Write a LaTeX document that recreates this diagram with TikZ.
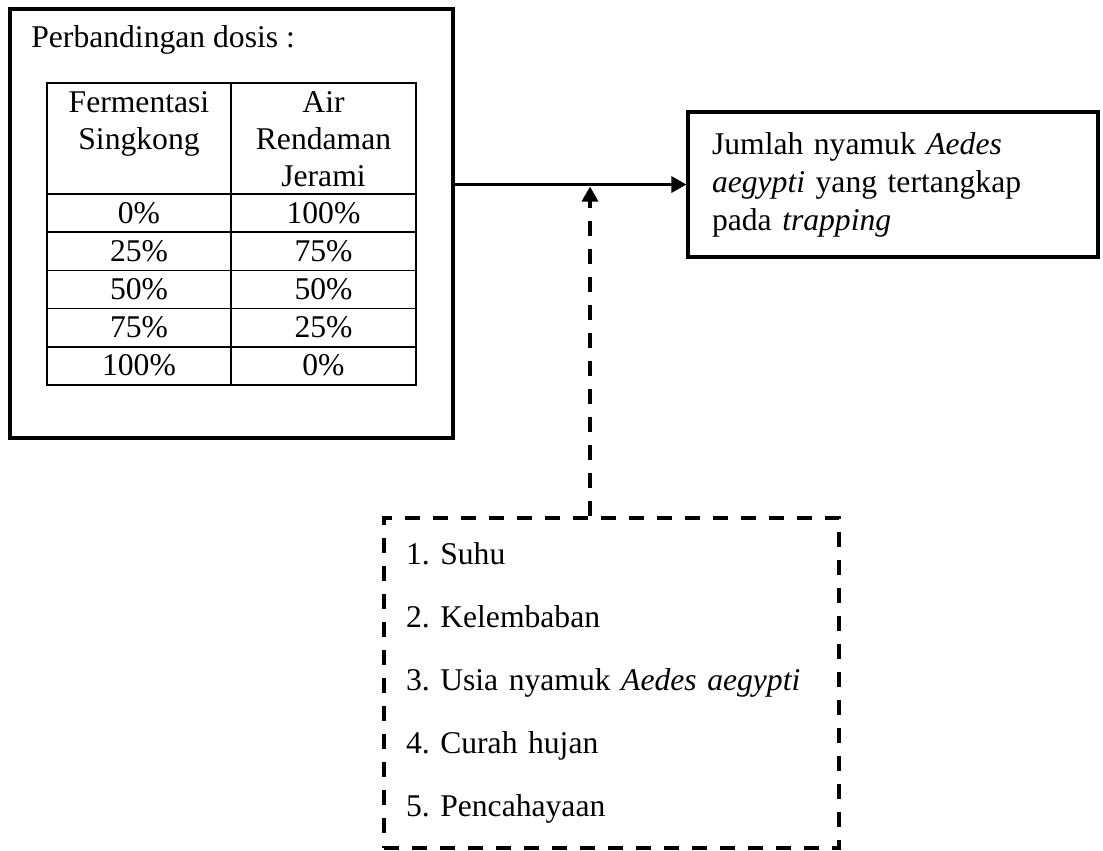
\documentclass[tikz,border=0pt]{standalone}
\usepackage{fontspec}
\setmainfont{Liberation Serif}
\usetikzlibrary{arrows.meta}
\frenchspacing
\tikzset{
  kotak/.style={draw, line width=0.065cm, inner sep=0pt},
  putus/.style={dash pattern=on 0.3cm off 0.26cm},
  garis/.style={line width=0.035cm},
  teks/.style={font=\fontsize{18}{20.9}\selectfont, inner sep=0pt},
}
\begin{document}
\begin{tikzpicture}[x=0.02cm, y=-0.02cm, >={Triangle[length=0.3cm,width=0.32cm]}]
  \useasboundingbox (0,0) rectangle (1103,850);
  \node[kotak, minimum width=8.86cm, minimum height=8.58cm] (dosis) at (231.5,223.5) {};
  \node[teks, anchor=base west] (judul) at (31,47.5) {Perbandingan dosis :};
  \draw[garis] (47,83) rectangle (416,385);
  \draw[garis] (231,83) -- (231,385);
  \foreach \y in {194,232.2,270.4,308.6,346.8}
    \draw[garis] (47,\y) -- (416,\y);
  \node[teks, align=center, anchor=base] (kol1) at (139,149) {Fermentasi\\Singkong};
  \node[teks, align=center, anchor=base] (kol2) at (323.5,186) {Air\\Rendaman\\Jerami};
  \foreach \a/\b [count=\i from 0] in {0/100,25/75,50/50,75/25,100/0}{
    \node[teks, anchor=base] (a\i) at (139,223+38.2*\i) {\a\%};
    \node[teks, anchor=base] (b\i) at (323.5,223+38.2*\i) {\b\%};
  }
  \node[kotak, teks, text width=7.24cm, align=left, inner xsep=0.48cm,
    minimum height=2.9cm, font=\fontsize{18}{21.6}\selectfont] (jumlah) at (893,184.5)
    {Jumlah nyamuk \textit{Aedes}\\\textit{aegypti} yang tertangkap\\pada \textit{trapping}};
  \node[kotak, putus, teks, text width=8.22cm, align=left, inner xsep=0.44cm,
    minimum height=6.6cm, font=\fontsize{18}{35.9}\selectfont] (faktor) at (611.5,683)
    {1. Suhu\\2. Kelembaban\\3. Usia nyamuk \textit{Aedes aegypti}\\4. Curah hujan\\5. Pencahayaan};
  \coordinate (temu) at (590,186.5);
  \draw[line width=0.065cm, ->] (dosis.east |- jumlah.west) -- (jumlah.west);
  \draw[line width=0.065cm, putus, ->] (faktor.north -| temu) -- (temu);
\end{tikzpicture}
\end{document}
